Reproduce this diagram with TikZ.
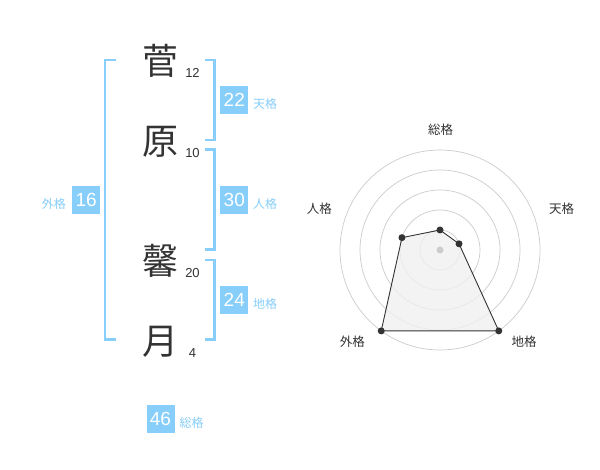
\documentclass[tikz,border=0pt]{standalone}
\usepackage{fontspec}
\setmainfont{Liberation Sans}
\newfontfamily\jp{Noto Sans CJK JP}
\usetikzlibrary{calc}
\definecolor{sky}{HTML}{87CEFA}
\definecolor{ink}{HTML}{333333}
\definecolor{ring}{HTML}{CCCCCC}
\definecolor{area}{HTML}{F0F0F0}
\begin{document}
\begin{tikzpicture}[x=1pt,y=-1pt,
  kanji/.style={font=\jp\fontsize{36}{36}\selectfont, text=ink, inner sep=0},
  strokes/.style={font=\fontsize{13}{13}\selectfont, text=ink, inner sep=0},
  score/.style={fill=sky, text=white, minimum width=28, minimum height=28, inner sep=0, font=\fontsize{19}{19}\selectfont},
  kaku/.style={font=\jp\fontsize{12}{12}\selectfont, text=sky, inner sep=0},
  bracket/.style={draw=sky, line width=2.2},
  axislabel/.style={font=\jp\fontsize{12.5}{12.5}\selectfont, text=ink, inner sep=0},
  ringline/.style={draw=ring, line width=0.7},
  dot/.style={circle, fill=ink, minimum size=7, inner sep=0},
  hub/.style={circle, fill=ring, minimum size=7, inner sep=0}]
\useasboundingbox (0,0) rectangle (600,470);
\fill[white] (0,0) rectangle (600,470);

% names
\node[kanji] (k1) at (160,61) {菅};
\node[kanji] (k2) at (160,142) {原};
\node[kanji] (k3) at (160,261) {馨};
\node[kanji] (k4) at (160,342) {月};
\node[strokes] (s1) at (192.5,73) {12};
\node[strokes] (s2) at (192.5,153) {10};
\node[strokes] (s3) at (192.5,273) {20};
\node[strokes] (s4) at (192.5,353) {4};

% brackets
\draw[bracket] (116,60) -- (105,60) -- (105,339.5) -- (116,339.5);
\draw[bracket] (205,60) -- (214.5,60) -- (214.5,140) -- (205,140);
\draw[bracket] (205,149.5) -- (214.5,149.5) -- (214.5,249.5) -- (205,249.5);
\draw[bracket] (205,260) -- (214.5,260) -- (214.5,339.5) -- (205,339.5);

% scores
\node[score] (ten) at (234.3,100.3) {22};
\node[kaku, anchor=west] (tenl) at (253,104) {天格};
\node[score] (jin) at (234.3,200.3) {30};
\node[kaku, anchor=west] (jinl) at (253,204) {人格};
\node[score] (chi) at (234.3,300.3) {24};
\node[kaku, anchor=west] (chil) at (253,304) {地格};
\node[score] (gai) at (86.2,200.3) {16};
\node[kaku, anchor=east] (gail) at (66,204) {外格};
\node[score] (sou) at (160.5,419.2) {46};
\node[kaku, anchor=west] (soul) at (179.5,423) {総格};

% radar
\coordinate (c) at (440,250);
\foreach \r in {20,40,60,80,100} \draw[ringline] (c) circle[radius=\r];
\node[axislabel] (a1) at (440.7,130) {総格};
\node[axislabel] (a2) at (561.7,208.3) {天格};
\node[axislabel] (a3) at (524,341.7) {地格};
\node[axislabel] (a4) at (352.3,341.7) {外格};
\node[axislabel] (a5) at (319.3,208.3) {人格};
\coordinate (p1) at ($(c)+(-90:20)$);
\coordinate (p2) at ($(c)+(-18:20)$);
\coordinate (p3) at ($(c)+(54:100)$);
\coordinate (p4) at ($(c)+(126:100)$);
\coordinate (p5) at ($(c)+(198:40)$);
\draw[fill=area, fill opacity=0.8, draw=ink, line width=0.9] (p1) -- (p2) -- (p3) -- (p4) -- (p5) -- cycle;
\node[hub] (h) at (c) {};
\foreach \i in {1,...,5} \node[dot] (d\i) at (p\i) {};
\end{tikzpicture}
\end{document}
